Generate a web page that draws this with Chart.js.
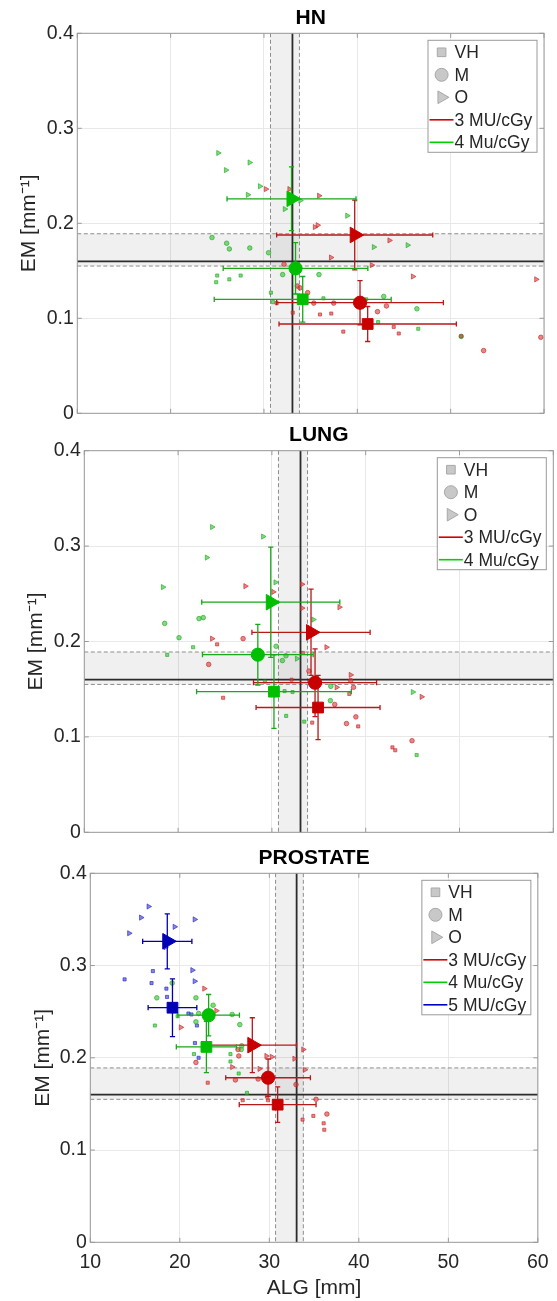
<!DOCTYPE html>
<html>
<head>
<meta charset="utf-8">
<script src="https://cdn.jsdelivr.net/npm/chart.js@4.4.1/dist/chart.umd.min.js"></script>
<style>
  body { margin: 0; background: #fff; }
  #wrap { position: relative; width: 557px; height: 1301px; overflow: hidden; }
  canvas { position: absolute; left: 0; }
</style>
</head>
<body>
<div id="wrap">
  <canvas id="hn" width="557" height="440" style="top:0px"></canvas>
  <canvas id="lung" width="557" height="440" style="top:420px"></canvas>
  <canvas id="prostate" width="557" height="461" style="top:840px"></canvas>
</div>
<script>
// reference band, ALG [mm] and EM [mm^-1]: lower, reference, upper
const refALG = [30.7, 33.05, 33.8];
const refEM = [0.155, 0.16, 0.189];

const xTicks = [10, 20, 30, 40, 50, 60];
const yTicks = [0, 0.1, 0.2, 0.3, 0.4];
const legendLabels = ['VH', 'M', 'O', '3 MU/cGy', '4 Mu/cGy', '5 MU/cGy'];

// ---- HN ----  means in order VH, M, O
const hnRedMeanX = [41.11, 40.29, 39.72];
const hnRedMeanY = [0.094, 0.1164, 0.1877];
const hnRedErrX = [9.5, 8.93, 8.36];
const hnRedErrY = [0.0184, 0.0232, 0.0367];
const hnGreenMeanX = [34.15, 33.38, 32.95];
const hnGreenMeanY = [0.120, 0.1526, 0.2258];
const hnGreenErrX = [9.48, 7.75, 6.91];
const hnGreenErrY = [0.024, 0.027, 0.0335];

const hnRedVH = [[33.08,0.106],[31.36,0.116],[36.0,0.104],[37.21,0.105],[38.5,0.086],[43.9,0.091],[44.44,0.084],[51.13,0.081]];
const hnRedM = [[32.15,0.157],[33.57,0.134],[33.86,0.132],[34.68,0.127],[35.33,0.116],[37.47,0.116],[42.16,0.107],[43.12,0.113],[53.53,0.066],[59.66,0.08]];
const hnRedO = [[30.2,0.236],[32.72,0.236],[35.9,0.229],[35.45,0.196],[35.75,0.198],[37.18,0.164],[43.44,0.182],[41.55,0.156],[45.96,0.144],[59.16,0.141]];
const hnGreenVH = [[24.99,0.145],[24.88,0.138],[26.29,0.141],[27.5,0.145],[30.74,0.127],[30.97,0.117],[36.37,0.121],[42.23,0.096],[46.53,0.089],[40.95,0.12]];
const hnGreenM = [[24.43,0.185],[26.0,0.179],[26.29,0.173],[28.48,0.174],[30.49,0.169],[32.0,0.146],[35.89,0.146],[42.83,0.123],[46.38,0.11],[51.13,0.081]];
const hnGreenO = [[25.1,0.274],[28.46,0.264],[25.92,0.256],[29.57,0.239],[28.27,0.23],[33.9,0.224],[32.23,0.215],[38.92,0.208],[41.77,0.175],[45.39,0.177]];

// ---- LUNG ----
const lungRedMeanX = [34.92, 34.6, 34.17];
const lungRedMeanY = [0.1308, 0.1568, 0.2096];
const lungRedErrX = [6.61, 6.56, 6.3];
const lungRedErrY = [0.0336, 0.0355, 0.0452];
const lungGreenMeanX = [30.22, 28.5, 29.88];
const lungGreenMeanY = [0.1474, 0.1862, 0.2412];
const lungGreenErrX = [8.25, 5.9, 7.36];
const lungGreenErrY = [0.0385, 0.0318, 0.0578];

const lungRedVH = [[24.16,0.197],[24.8,0.141],[34.3,0.115],[39.2,0.111],[38.25,0.145],[42.85,0.089],[43.15,0.086],[33.3,0.188],[32.1,0.16]];
const lungRedM = [[26.93,0.203],[23.26,0.176],[33.95,0.169],[36.7,0.134],[38.7,0.152],[38.4,0.159],[37.95,0.114],[38.95,0.121],[44.94,0.096]];
const lungRedO = [[27.17,0.258],[30.15,0.252],[33.21,0.26],[33.22,0.235],[37.2,0.236],[23.62,0.203],[35.81,0.194],[38.4,0.165],[36.9,0.152],[45.96,0.142]];
const lungGreenVH = [[18.84,0.186],[21.6,0.194],[31.35,0.148],[32.2,0.147],[31.52,0.122],[33.45,0.116],[29.25,0.158],[45.43,0.081]];
const lungGreenM = [[18.57,0.219],[22.23,0.224],[22.68,0.225],[20.1,0.204],[30.45,0.195],[31.12,0.18],[31.5,0.185],[36.28,0.153],[36.24,0.138]];
const lungGreenO = [[23.62,0.32],[29.06,0.31],[23.06,0.288],[18.38,0.257],[30.38,0.262],[34.42,0.223],[32.67,0.182],[45.02,0.147]];

// ---- PROSTATE ----
const proRedMeanX = [30.93, 29.86, 28.1];
const proRedMeanY = [0.1492, 0.1784, 0.2137];
const proRedErrX = [4.29, 4.73, 4.93];
const proRedErrY = [0.0193, 0.0203, 0.0297];
const proGreenMeanX = [22.97, 23.22];
const proGreenMeanY = [0.2118, 0.2462];
const proGreenErrX = [3.36, 3.44];
const proGreenErrY = [0.0278, 0.0224];
const proBlueMeanX = [19.18, 18.6];
const proBlueMeanY = [0.2543, 0.3263];
const proBlueErrX = [2.72, 2.75];
const proBlueErrY = [0.0313, 0.0298];

const proRedVH = [[23.12,0.173],[27.03,0.154],[29.85,0.154],[33.71,0.133],[34.92,0.137],[36.07,0.129],[36.14,0.122],[29.74,0.158]];
const proRedM = [[21.8,0.195],[26.59,0.202],[26.5,0.209],[26.21,0.176],[28.75,0.177],[32.98,0.171],[35.22,0.155],[36.43,0.139]];
const proRedO = [[22.73,0.275],[20.11,0.233],[24.08,0.251],[29.67,0.202],[30.29,0.201],[32.8,0.199],[33.79,0.209],[33.97,0.187],[28.9,0.188],[25.85,0.19]];
const proGreenVH = [[17.21,0.235],[19.75,0.245],[21.58,0.204],[25.66,0.204],[25.66,0.196],[26.58,0.183],[27.5,0.162]];
const proGreenM = [[17.43,0.265],[19.15,0.281],[21.8,0.265],[21.8,0.239],[22.1,0.248],[23.72,0.257],[25.85,0.247],[26.7,0.236],[26.87,0.209],[26.92,0.213]];
const proBlueVH = [[13.83,0.285],[16.84,0.281],[16.99,0.294],[18.5,0.275],[18.57,0.266],[20.96,0.248],[21.91,0.235],[21.69,0.216],[22.1,0.2],[21.3,0.247]];
const proBlueO = [[16.51,0.364],[15.67,0.352],[14.34,0.335],[19.42,0.342],[21.66,0.35],[21.4,0.295],[21.66,0.283],[18.4,0.32]];

const FONT = '"Liberation Sans", Arial, Helvetica, sans-serif';
const TXT = '#262626';

const SHAPE = {
  VH: { style: 'rect', rot: 0, big: 7.6, small: 2.2, leg: 6.1 },
  M: { style: 'circle', rot: 0, big: 6.6, small: 2.3, leg: 6.5 },
  O: { style: 'triangle', rot: 90, big: 9, small: 3.0, leg: 7.3 }
};

const RED = { mark: '#c80000', bar: '#b81818', line: '#d40000', fill: 'rgba(215,60,60,0.62)', edge: 'rgba(200,40,40,0.8)' };
const GREEN = { mark: '#00be00', bar: '#18a818', line: '#00d000', fill: 'rgba(40,190,40,0.58)', edge: 'rgba(30,170,30,0.8)' };
const BLUE = { mark: '#0000b4', bar: '#0000b0', line: '#0000c8', fill: 'rgba(60,60,210,0.62)', edge: 'rgba(40,40,200,0.8)' };

// bands and reference lines under the data
const refLines = {
  id: 'refLines',
  beforeDatasetsDraw(chart) {
    const { ctx, chartArea: a, scales: { x, y } } = chart;
    const xl = x.getPixelForValue(refALG[0]), xr = x.getPixelForValue(refALG[2]);
    const yb = y.getPixelForValue(refEM[0]), yt = y.getPixelForValue(refEM[2]);
    ctx.save();
    ctx.fillStyle = 'rgba(0,0,0,0.06)';
    ctx.fillRect(xl, a.top, xr - xl, a.height);
    ctx.fillRect(a.left, yt, a.width, yb - yt);
    ctx.strokeStyle = '#8c8c8c';
    ctx.lineWidth = 1;
    ctx.setLineDash([4, 2.5]);
    ctx.beginPath();
    [xl, xr].forEach(p => { ctx.moveTo(p, a.top); ctx.lineTo(p, a.bottom); });
    [yb, yt].forEach(p => { ctx.moveTo(a.left, p); ctx.lineTo(a.right, p); });
    ctx.stroke();
    ctx.setLineDash([]);
    ctx.strokeStyle = '#2b2b2b';
    ctx.lineWidth = 1.8;
    const xm = x.getPixelForValue(refALG[1]), ym = y.getPixelForValue(refEM[1]);
    ctx.beginPath();
    ctx.moveTo(xm, a.top); ctx.lineTo(xm, a.bottom);
    ctx.moveTo(a.left, ym); ctx.lineTo(a.right, ym);
    ctx.stroke();
    ctx.restore();
  }
};

// error bars, drawn just before the big markers
const errorBars = {
  id: 'errorBars',
  beforeDatasetsDraw(chart) { chart.$errDone = false; },
  beforeDatasetDraw(chart, args, opts) {
    if (chart.$errDone || chart.data.datasets[args.index].order !== 0) return;
    chart.$errDone = true;
    const { ctx, scales: { x, y } } = chart;
    const cap = 2.6;
    ctx.save();
    ctx.lineWidth = 1.3;
    opts.groups.forEach(g => {
      ctx.strokeStyle = g.color;
      g.mx.forEach((mx, i) => {
        const my = g.my[i];
        const px = x.getPixelForValue(mx), py = y.getPixelForValue(my);
        const x0 = x.getPixelForValue(mx - g.ex[i]), x1 = x.getPixelForValue(mx + g.ex[i]);
        const y0 = y.getPixelForValue(my - g.ey[i]), y1 = y.getPixelForValue(my + g.ey[i]);
        ctx.beginPath();
        ctx.moveTo(x0, py); ctx.lineTo(x1, py);
        ctx.moveTo(x0, py - cap); ctx.lineTo(x0, py + cap);
        ctx.moveTo(x1, py - cap); ctx.lineTo(x1, py + cap);
        ctx.moveTo(px, y0); ctx.lineTo(px, y1);
        ctx.moveTo(px - cap, y0); ctx.lineTo(px + cap, y0);
        ctx.moveTo(px - cap, y1); ctx.lineTo(px + cap, y1);
        ctx.stroke();
      });
    });
    ctx.restore();
  }
};

// axes box with inner tick marks
const frame = {
  id: 'frame',
  afterDatasetsDraw(chart) {
    const { ctx, chartArea: a, scales: { x, y } } = chart;
    ctx.save();
    ctx.strokeStyle = '#9a9a9a';
    ctx.lineWidth = 1;
    ctx.strokeRect(a.left, a.top, a.width, a.height);
    ctx.beginPath();
    xTicks.forEach(v => {
      const p = x.getPixelForValue(v);
      ctx.moveTo(p, a.bottom); ctx.lineTo(p, a.bottom - 4.5);
      ctx.moveTo(p, a.top); ctx.lineTo(p, a.top + 4.5);
    });
    yTicks.forEach(v => {
      const p = y.getPixelForValue(v);
      ctx.moveTo(a.left, p); ctx.lineTo(a.left + 4.5, p);
      ctx.moveTo(a.right, p); ctx.lineTo(a.right - 4.5, p);
    });
    ctx.stroke();
    ctx.restore();
  }
};

// boxed legend in the upper right corner of the plot
const boxLegend = {
  id: 'boxLegend',
  afterDraw(chart, args, opts) {
    const { ctx, chartArea: a } = chart;
    const items = opts.items;
    const w = 109, rowH = 22.5;
    const h = 22 + (items.length - 1) * rowH;
    const left = a.right - 7 - w, top = a.top + 7;
    ctx.save();
    ctx.fillStyle = '#fff';
    ctx.fillRect(left, top, w, h);
    ctx.strokeStyle = '#9a9a9a';
    ctx.lineWidth = 1;
    ctx.strokeRect(left, top, w, h);
    ctx.font = '17.5px ' + FONT;
    ctx.textBaseline = 'middle';
    items.forEach((it, i) => {
      const cy = top + 12 + i * rowH;
      if (it.line) {
        ctx.strokeStyle = it.line;
        ctx.lineWidth = 1.6;
        ctx.beginPath();
        ctx.moveTo(left + 1.5, cy); ctx.lineTo(left + 25.5, cy);
        ctx.stroke();
      } else {
        const s = SHAPE[it.shape];
        ctx.fillStyle = '#c8c8c8';
        ctx.strokeStyle = '#a8a8a8';
        ctx.lineWidth = 1;
        Chart.helpers.drawPoint(ctx, { pointStyle: s.style, rotation: s.rot, radius: s.leg, borderWidth: 1 }, left + 13.6, cy);
      }
      ctx.fillStyle = TXT;
      ctx.fillText(it.label, left + 26.5, cy + 1);
    });
    ctx.restore();
  }
};

function makePanel(id, cfg) {
  const big = cfg.groups.map(g => ({
    data: g.mx.map((v, i) => ({ x: v, y: g.my[i] })),
    pointStyle: g.shapes.map(s => SHAPE[s].style),
    pointRotation: g.shapes.map(s => SHAPE[s].rot),
    pointRadius: g.shapes.map(s => SHAPE[s].big),
    backgroundColor: g.col.mark,
    borderColor: g.col.mark,
    borderWidth: 1,
    order: 0
  }));
  const small = [];
  cfg.groups.forEach(g => {
    Object.keys(g.small).forEach(s => {
      small.push({
        data: g.small[s].map(p => ({ x: p[0], y: p[1] })),
        pointStyle: SHAPE[s].style,
        pointRotation: SHAPE[s].rot,
        pointRadius: SHAPE[s].small,
        backgroundColor: g.col.fill,
        borderColor: g.col.edge,
        borderWidth: 0.8,
        order: 1
      });
    });
  });

  const items = [
    { shape: 'VH', label: legendLabels[0] },
    { shape: 'M', label: legendLabels[1] },
    { shape: 'O', label: legendLabels[2] }
  ];
  cfg.groups.forEach(g => items.push({ line: g.col.line, label: legendLabels[g.leg] }));

  new Chart(document.getElementById(id), {
    type: 'scatter',
    data: { datasets: big.concat(small) },
    options: {
      responsive: false,
      animation: false,
      devicePixelRatio: 1,
      events: [],
      layout: { autoPadding: false, padding: { left: 0, right: cfg.padRight, top: 0, bottom: 0 } },
      plugins: {
        legend: { display: false },
        tooltip: { enabled: false },
        title: {
          display: true, text: cfg.title, fullSize: false, color: '#000',
          font: { family: FONT, size: 21, weight: 'bold' },
          padding: cfg.titlePad
        },
        errorBars: {
          groups: cfg.groups.map(g => ({ color: g.col.bar, mx: g.mx, my: g.my, ex: g.ex, ey: g.ey }))
        },
        boxLegend: { items }
      },
      scales: {
        x: {
          type: 'linear', min: 10, max: 60,
          afterBuildTicks: s => { s.ticks = xTicks.map(v => ({ value: v })); },
          afterFit: s => { s.height = cfg.xH; },
          grid: { color: '#e8e8e8', drawTicks: false },
          border: { display: false },
          ticks: { display: cfg.showX, padding: 8.3, color: TXT, font: { family: FONT, size: 19.5 } },
          title: {
            display: cfg.showX, text: 'ALG [mm]', color: TXT,
            font: { family: FONT, size: 21 }, padding: { top: 0, bottom: 0.4 }
          }
        },
        y: {
          type: 'linear', min: 0, max: 0.4,
          afterBuildTicks: s => { s.ticks = yTicks.map(v => ({ value: v })); },
          afterFit: s => { s.width = cfg.yW; },
          grid: { color: '#e8e8e8', drawTicks: false },
          border: { display: false },
          ticks: { padding: 3.5, color: TXT, font: { family: FONT, size: 19.5 } },
          title: {
            display: true, text: 'EM [mm\u207B\u00B9]', color: TXT,
            font: { family: FONT, size: 21 }, padding: { top: cfg.yTitlePad, bottom: 0 }
          }
        }
      }
    },
    plugins: [refLines, errorBars, frame, boxLegend]
  });
}

makePanel('hn', {
  title: 'HN', padRight: 13, yW: 77.3, xH: 26.7, showX: false,
  titlePad: { top: 5.8, bottom: 2.3 }, yTitlePad: 17,
  groups: [
    { col: RED, leg: 3, shapes: ['VH', 'M', 'O'], mx: hnRedMeanX, my: hnRedMeanY, ex: hnRedErrX, ey: hnRedErrY,
      small: { VH: hnRedVH, M: hnRedM, O: hnRedO } },
    { col: GREEN, leg: 4, shapes: ['VH', 'M', 'O'], mx: hnGreenMeanX, my: hnGreenMeanY, ex: hnGreenErrX, ey: hnGreenErrY,
      small: { VH: hnGreenVH, M: hnGreenM, O: hnGreenO } }
  ]
});

makePanel('lung', {
  title: 'LUNG', padRight: 3.7, yW: 84.3, xH: 27.7, showX: false,
  titlePad: { top: 2.4, bottom: 3.1 }, yTitlePad: 23.8,
  groups: [
    { col: RED, leg: 3, shapes: ['VH', 'M', 'O'], mx: lungRedMeanX, my: lungRedMeanY, ex: lungRedErrX, ey: lungRedErrY,
      small: { VH: lungRedVH, M: lungRedM, O: lungRedO } },
    { col: GREEN, leg: 4, shapes: ['VH', 'M', 'O'], mx: lungGreenMeanX, my: lungGreenMeanY, ex: lungGreenErrX, ey: lungGreenErrY,
      small: { VH: lungGreenVH, M: lungGreenM, O: lungGreenO } }
  ]
});

makePanel('prostate', {
  title: 'PROSTATE', padRight: 13.3, yW: 90.3, xH: 58.7, showX: true,
  titlePad: { top: 5.4, bottom: 2.7 }, yTitlePad: 30.8,
  groups: [
    { col: RED, leg: 3, shapes: ['VH', 'M', 'O'], mx: proRedMeanX, my: proRedMeanY, ex: proRedErrX, ey: proRedErrY,
      small: { VH: proRedVH, M: proRedM, O: proRedO } },
    { col: GREEN, leg: 4, shapes: ['VH', 'M'], mx: proGreenMeanX, my: proGreenMeanY, ex: proGreenErrX, ey: proGreenErrY,
      small: { VH: proGreenVH, M: proGreenM } },
    { col: BLUE, leg: 5, shapes: ['VH', 'O'], mx: proBlueMeanX, my: proBlueMeanY, ex: proBlueErrX, ey: proBlueErrY,
      small: { VH: proBlueVH, O: proBlueO } }
  ]
});
</script>
</body>
</html>
